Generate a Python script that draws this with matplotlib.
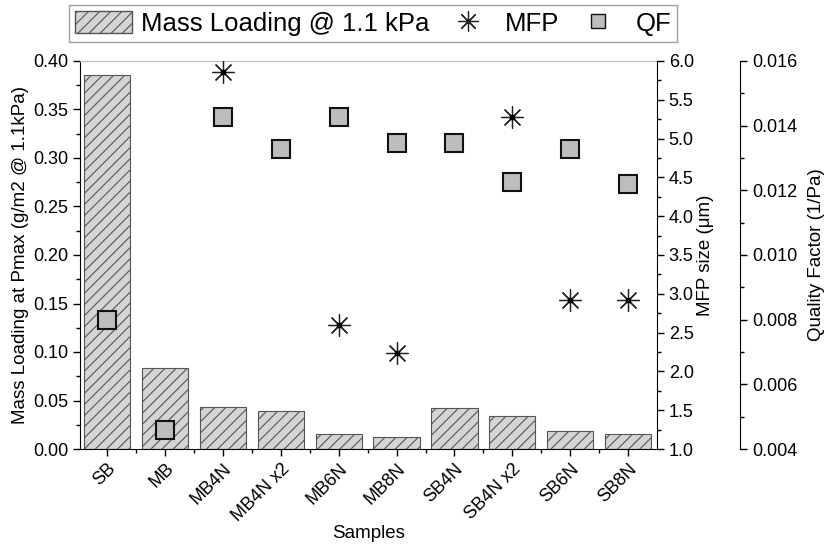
import numpy as np
import matplotlib.pyplot as plt
from matplotlib.ticker import MultipleLocator, FixedLocator
from matplotlib.patches import Patch
from matplotlib.lines import Line2D

plt.rcParams.update({
    "font.family": "Liberation Sans",
    "font.size": 13,
    "hatch.color": "#555555",
    "hatch.linewidth": 0.8,
})

samples = ["SB", "MB", "MB4N", "MB4N x2", "MB6N", "MB8N",
           "SB4N", "SB4N x2", "SB6N", "SB8N"]
mass_loading = [0.386, 0.083, 0.043, 0.039, 0.015, 0.012,
                0.042, 0.034, 0.019, 0.015]
mfp = [np.nan, np.nan, 5.86, np.nan, 2.60, 2.24,
       np.nan, 5.28, 2.92, 2.92]
qf = [0.0080, 0.00459, 0.01427, 0.01328, 0.01427, 0.01346,
      0.01346, 0.01226, 0.01328, 0.01220]

x = np.arange(len(samples))

STAR = (8, 2, 0)

fig = plt.figure(figsize=(8.26, 5.48), dpi=100)
ax = fig.add_axes([80 / 826, 1 - 449 / 548, 577 / 826, 388 / 548])

ax.bar(x, mass_loading, width=0.8, color="#d4d4d4", edgecolor="#555555",
       linewidth=0.8, hatch="///", zorder=2)
ax.set_xlim(-0.47, 9.5)
ax.set_ylim(0, 0.40)
ax.yaxis.set_major_locator(MultipleLocator(0.05))
ax.yaxis.set_minor_locator(MultipleLocator(0.025))
ax.yaxis.set_major_formatter(lambda v, p: f"{v:.2f}")
ax.set_xticks(x)
ax.set_xticklabels(samples, rotation=45, ha="right", rotation_mode="anchor")
ax.xaxis.set_minor_locator(FixedLocator(x[:-1] + 0.5))
ax.tick_params(axis="both", which="major", direction="out", length=5, width=1)
ax.tick_params(axis="both", which="minor", direction="out", length=3, width=1)
ax.tick_params(axis="x", pad=3)
ax.set_ylabel("Mass Loading at Pmax (g/m2 @ 1.1kPa)", fontsize=13.5, labelpad=3)
ax.set_xlabel("Samples", fontsize=13.5, labelpad=0)
ax.spines["top"].set_color("#bbbbbb")
ax.spines["right"].set_visible(False)

# MFP axis
ax2 = ax.twinx()
ax2.plot(x, mfp, linestyle="none", marker=STAR, markersize=16,
         markeredgewidth=0.9, color="#222222", zorder=4)
ax2.plot(x, mfp, linestyle="none", marker="s", markersize=2.2,
         color="black", zorder=5)
ax2.set_ylim(1.0, 6.0)
ax2.yaxis.set_major_locator(MultipleLocator(0.5))
ax2.yaxis.set_minor_locator(MultipleLocator(0.25))
ax2.yaxis.set_major_formatter(lambda v, p: f"{v:.1f}")
ax2.tick_params(axis="y", which="major", direction="out", length=5, width=1)
ax2.tick_params(axis="y", which="minor", direction="out", length=3, width=1)
ax2.set_ylabel("MFP size (μm)", fontsize=13.5, labelpad=2)
for s in ["top", "left", "bottom"]:
    ax2.spines[s].set_visible(False)

# QF axis
ax3 = ax.twinx()
ax3.spines["right"].set_position(("axes", 660 / 577))
ax3.plot(x, qf, linestyle="none", marker="s", markersize=12.5,
         markerfacecolor="#bdbdbd", markeredgecolor="#111111",
         markeredgewidth=1.5, zorder=4)
ax3.set_ylim(0.004, 0.016)
ax3.yaxis.set_major_locator(MultipleLocator(0.002))
ax3.yaxis.set_minor_locator(MultipleLocator(0.001))
ax3.yaxis.set_major_formatter(lambda v, p: f"{v:.3f}")
ax3.tick_params(axis="y", which="major", direction="out", length=5, width=1)
ax3.tick_params(axis="y", which="minor", direction="out", length=3, width=1)
ax3.set_ylabel("Quality Factor (1/Pa)", fontsize=13.5, labelpad=8)
for s in ["top", "left", "bottom"]:
    ax3.spines[s].set_visible(False)

handles = [
    Patch(facecolor="#d4d4d4", edgecolor="#555555", hatch="///",
          label="Mass Loading @ 1.1 kPa"),
    Line2D([], [], linestyle="none", marker=STAR, markersize=14.5,
           markeredgewidth=0.9, color="#222222", label="MFP"),
    Line2D([], [], linestyle="none", marker="s", markersize=9.5,
           markerfacecolor="#bdbdbd", markeredgecolor="#111111",
           label="QF"),
]
fig.legend(handles=handles, loc="upper left", bbox_to_anchor=(69 / 826, 1 - 5 / 548),
           borderaxespad=0, ncol=3, fontsize=18.5, frameon=True, fancybox=False,
           edgecolor="#888888", handlelength=2.2, handleheight=0.9,
           columnspacing=0.4, handletextpad=0.35, borderpad=0.25)

fig.savefig("out.png", dpi=100)
